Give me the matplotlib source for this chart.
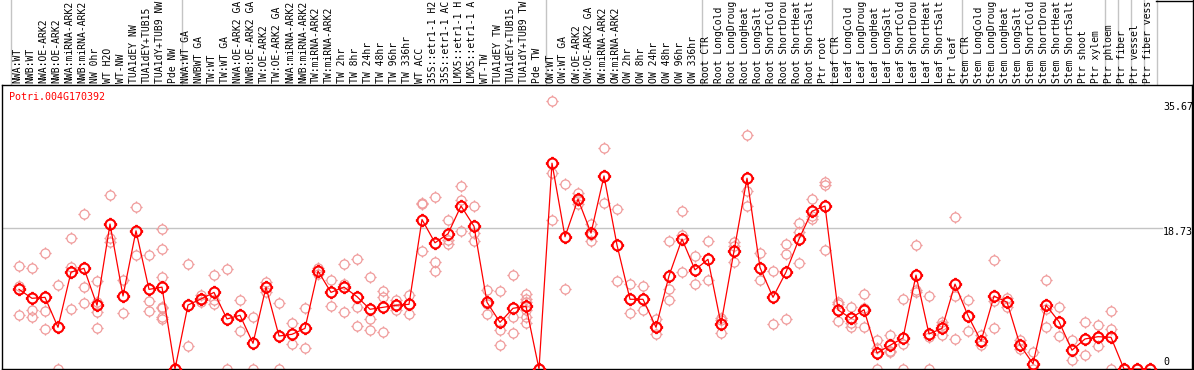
import numpy as np
import matplotlib
matplotlib.use("Agg")
import matplotlib.pyplot as plt
import matplotlib.transforms as mtransforms
from matplotlib.path import Path
from matplotlib.lines import Line2D

# ---- data ----
gene = "Potri.004G170392"
# sample names as shown (the column header cuts them at 14 characters)
samples = [
    "NWA:WT", "NWB:WT", "NWA:OE-ARK2", "NWB:OE-ARK2", "NWA:miRNA-ARK2", "NWB:miRNA-ARK2",
    "NW 0hr", "WT H2O", "WT-NW", "TUA1dEY NW", "TUA1dEY+TUB15", "TUA1dY+TUB9 NW", "Pde NW",
    "NWA:WT GA", "NWBWT GA", "TW:WT", "TW:WT GA", "NWA:OE-ARK2 GA", "NWB:OE-ARK2 GA",
    "TW:OE-ARK2", "TW:OE-ARK2 GA", "NWA:miRNA-ARK2", "NWB:miRNA-ARK2", "TW:miRNA-ARK2",
    "TW:miRNA-ARK2", "TW 2hr", "TW 8hr", "TW 24hr", "TW 48hr", "TW 96hr", "TW 336hr", "WT ACC",
    "35S::etr1-1 H2", "35S::etr1-1 AC", "LMX5::etr1-1 H", "LMX5::etr1-1 A", "WT-TW",
    "TUA1dEY TW", "TUA1dEY+TUB15", "TUA1dY+TUB9 TW", "Pde TW",
    "OW:WT", "OW:WT GA", "OW:OE-ARK2", "OW:OE-ARK2 GA", "OW:miRNA-ARK2", "OW:miRNA-ARK2",
    "OW 2hr", "OW 8hr", "OW 24hr", "OW 48hr", "OW 96hr", "OW 336hr",
    "Root CTR", "Root LongCold", "Root LongDroug", "Root LongHeat", "Root LongSalt",
    "Root ShortCold", "Root ShortDrou", "Root ShortHeat", "Root ShortSalt", "Ptr root",
    "Leaf CTR", "Leaf LongCold", "Leaf LongDroug", "Leaf LongHeat", "Leaf LongSalt",
    "Leaf ShortCold", "Leaf ShortDrou", "Leaf ShortHeat", "Leaf ShortSalt", "Ptr leaf",
    "Stem CTR", "Stem LongCold", "Stem LongDroug", "Stem LongHeat", "Stem LongSalt",
    "Stem ShortCold", "Stem ShortDrou", "Stem ShortHeat", "Stem ShortSalt",
    "Ptr shoot", "Ptr xylem", "Ptr phloem", "Ptr fiber", "Ptr vessel", "Ptr fiber vess",
]

means = [
    10.6, 9.41, 9.54, 5.55, 12.9, 13.4, 8.48, 19.3, 9.72, 18.4, 10.6, 10.9, 0.0,
    8.52, 9.32, 10.2, 6.66, 7.15, 3.42, 10.9, 4.39, 4.62, 5.41, 13.05, 10.2, 10.9, 9.63,
    7.95, 8.21, 8.48, 8.61, 19.9, 16.8, 18.0, 21.7, 19.0, 8.88, 6.21, 8.08, 8.35, 0.0,
    27.4, 17.6, 22.6, 18.1, 25.7, 16.5, 9.28, 9.28, 5.55, 12.4, 17.3, 13.2,
    14.6, 5.99, 15.7, 25.4, 13.5, 9.54, 12.9, 17.3, 21.0, 21.7,
    7.86, 6.75, 7.9, 2.13, 3.15, 4.13, 12.5, 4.66, 5.41, 11.3,
    7.1, 3.7, 9.7, 8.9, 3.2, 0.7, 8.5, 6.3, 2.5,
    4.0, 4.3, 4.22, 0.0, 0.0, 0.0,
]

replicates = [
    [13.7, 11.0, 7.15], [13.4, 7.86, 6.88], [15.4, 7.72, 5.33], [11.2, 0],
    [17.4, 13.6, 7.95], [20.7, 10.9, 8.75], [11.7, 8.97, 7.55, 5.41], [23.1, 17.5, 16.9],
    [11.9, 7.4], [21.6, 15.2], [15.2, 9.05, 7.72], [18.7, 16.0, 12.25, 8.3, 8.08, 6.97, 6.62],
    [0, 0],
    [14.0, 3.06], [9.8, 9.3, 8.9], [12.5, 9.19, 8.66], [13.3, 0], [9.19, 5.1], [6.9, 0],
    [11.6, 10.2], [8.79, 0], [6.13, 3.28], [8.12, 2.84], [13.4, 12.6], [11.8, 8.35],
    [14.0, 11.3, 7.55], [14.7, 8.3, 5.68], [12.3, 6.62, 5.15], [10.4, 9.55, 4.93],
    [9.2, 8.5, 7.8], [9.85, 7.28], [22.1, 21.9, 15.75], [22.9, 14.3, 13.0],
    [19.9, 17.2, 16.7], [24.3, 22.5, 18.4], [21.7, 18.15, 17.1], [10.5, 8.66, 7.28],
    [10.4, 5.19, 3.15], [12.5, 6.88, 4.75], [9.95, 9.32, 8.88, 7.86, 6.97, 6.13], [0, 0],
    [35.67, 26.1, 19.9], [24.6, 10.6], [23.4, 22.5, 22.0], [19.3, 17.9, 17.1],
    [29.4, 22.1], [21.3, 11.7], [11.3, 7.4], [11.0, 7.86], [6.62, 4.62],
    [17.1, 10.6, 9.19], [21.0, 17.8, 12.9], [15.0, 11.3],
    [17.1, 11.9], [6.84, 6.5, 4.75], [16.9, 16.4, 14.2], [31.2, 23.7, 21.7],
    [15.4, 11.85], [13.05, 5.95], [16.6, 15.3, 6.66], [19.5, 18.2, 14.1],
    [22.6, 20.4, 20.0], [24.9, 24.5, 15.9],
    [8.97, 8.6, 6.39], [8.21, 6.17, 5.55], [9.99, 8.17, 5.55], [3.86, 2.75, 0],
    [4.48, 2.44, 2.3], [9.32, 3.28, 0], [16.5, 10.5, 10.2], [9.72, 4.3, 0],
    [6.21, 5.8, 4.48], [20.2, 9.76, 3.99],
    [9.2, 7.0, 5.0], [4.5, 3.2], [14.5, 9.0, 5.5], [9.5, 8.3], [3.8, 2.6], [2.2, 0],
    [11.8, 8.0, 5.6], [8.2, 4.4], [3.8, 1.2],
    [6.2, 1.8], [5.8, 4.3, 3.1], [7.72, 5.33, 0], [0, 0], [0, 0], [0, 0],
]

group_breaks = [-0.6, 12.5, 40.5, 52.5, 62.5, 72.5, 83.5, 84.5, 85.5, 86.5, 87.5]
yticks = [35.67, 18.73, 0]

# ---- figure ----
W, H = 1194, 370
fig = plt.figure(figsize=(W / 100, H / 100), dpi=100)
ax = fig.add_axes([1.5 / W, 1 / H, 1190.5 / W, 284 / H])
ax.set_xlim((1.5 - 19) / 13, (1192 - 19) / 13)
ax.set_ylim(0, 284 / 7.512)
ax.set_xticks([]); ax.set_yticks([])
for s in ax.spines.values():
    s.set_linewidth(1.0)

RED = "#FF0000"
PINK = "#F09C9C"
GRID = "#C4C4C4"
mono = "DejaVu Sans Mono"

# circle with little pixel ticks sticking out
ticks = Path([[1, 0], [1.35, 0], [-1, 0], [-1.35, 0], [0, 1], [0, 1.35], [0, -1], [0, -1.35]],
             [Path.MOVETO, Path.LINETO] * 4)
mk = Path.make_compound_path(Path.unit_circle(), ticks)

x = np.arange(len(samples))
xfig = mtransforms.blended_transform_factory(ax.transData, fig.transFigure)

for xv in group_breaks:
    fig.add_artist(Line2D([xv, xv], [0, 1], transform=xfig, color=GRID, lw=1.0, zorder=0))
ax.axhline(18.73, xmin=0, xmax=(1162 - 1.5) / 1190.5, color=GRID, lw=1.0, zorder=0)

rx = [i for i, r in enumerate(replicates) for _ in r]
ry = [v for r in replicates for v in r]
ax.plot(rx, ry, ls="none", marker=mk, ms=8.8, mfc="none", mec=PINK, mew=0.9, zorder=2)
ax.plot(x, means, color=RED, lw=0.9, marker=mk, ms=9.6, mfc="none", mec=RED, mew=1.5, zorder=3)

# sample labels above the plot
for i, lab in enumerate(samples):
    ax.text(i - 0.15, 1 - 83 / H, lab, transform=xfig, rotation=90, ha="center", va="bottom",
            fontsize=7.0, family=mono, clip_on=False)

# value labels at right
yax = mtransforms.blended_transform_factory(ax.transAxes, ax.transData)
offs = {35.67: -6, 18.73: -4, 0: 7}
for v in yticks:
    tr = mtransforms.offset_copy(yax, fig=fig, y=offs[v], units="dots")
    ax.text((1163 - 1.5) / 1190.5, v, f"{v:g}", transform=tr, ha="left", va="center",
            fontsize=7.2, family=mono)

ax.text(8 / 1190.5, 1 - 12 / 284, gene, transform=ax.transAxes, color=RED, ha="left",
        va="center", fontsize=7.2, family=mono)

# frame pieces outside the axes (right edge and top-right box)
fig.add_artist(Line2D([1192.5 / W, 1192.5 / W], [0, 1], transform=fig.transFigure, color="black", lw=1.0))
fig.add_artist(Line2D([1156 / W, 1193 / W], [1 - 0.5 / H, 1 - 0.5 / H], transform=fig.transFigure,
                      color="black", lw=1.0))

fig.savefig("out.png", dpi=100)
